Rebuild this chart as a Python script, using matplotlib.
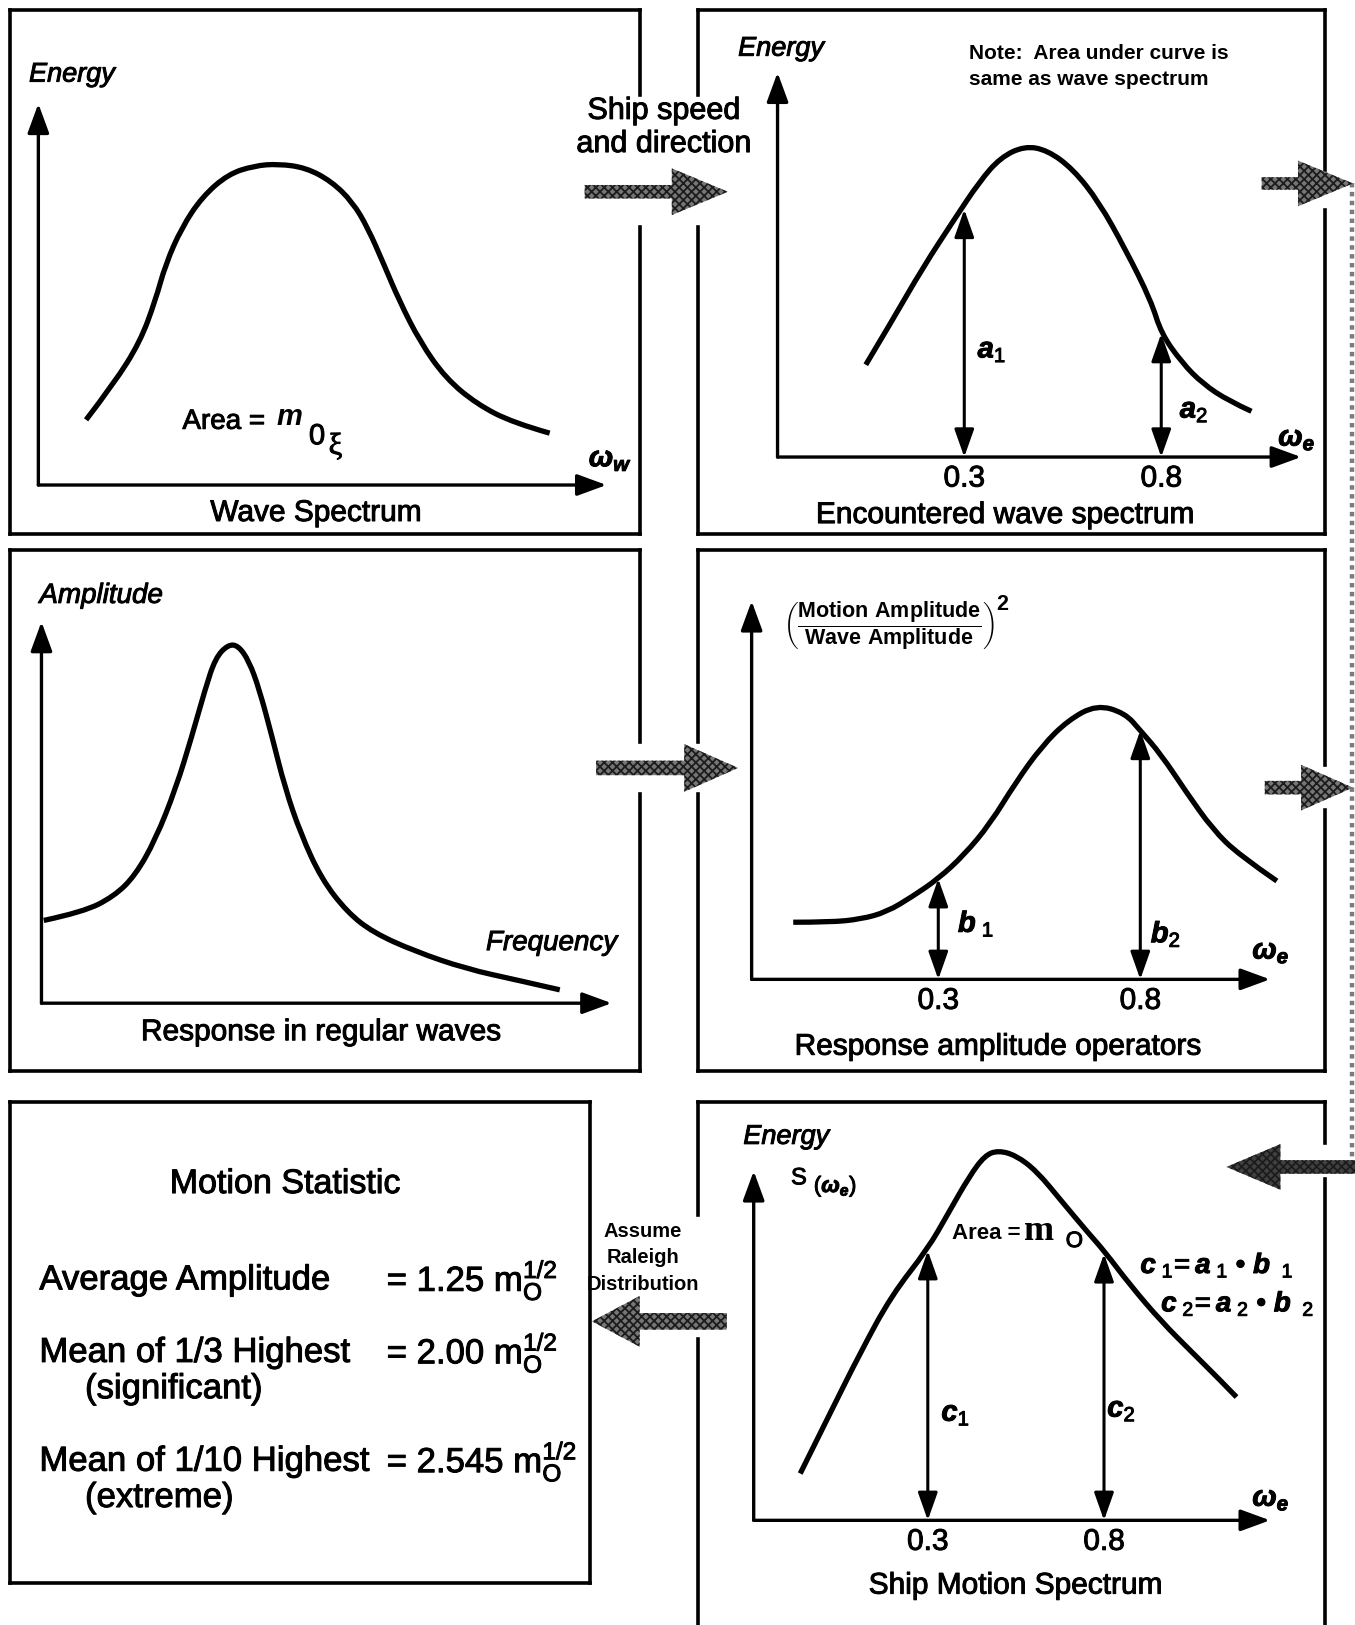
import matplotlib
matplotlib.use("Agg")
import matplotlib.pyplot as plt
import matplotlib.patheffects as pe
from matplotlib.patches import Polygon, PathPatch
from matplotlib.path import Path

plt.rcParams["font.family"] = ["Liberation Sans", "DejaVu Sans"]
plt.rcParams["mathtext.fontset"] = "custom"
plt.rcParams["mathtext.rm"] = "Liberation Sans"
plt.rcParams["mathtext.it"] = "Liberation Sans:italic:bold"
plt.rcParams["mathtext.bf"] = "Liberation Sans:bold"
plt.rcParams["hatch.linewidth"] = 1.3

# ---- values (frequency, relative height) ----
wave_freq = [0.084, 0.133, 0.179, 0.206, 0.224, 0.252, 0.288, 0.334, 0.380, 0.422,
             0.471, 0.516, 0.553, 0.580, 0.608, 0.635, 0.672, 0.717, 0.772, 0.836, 0.900]
wave_energy = [0.171, 0.266, 0.375, 0.484, 0.579, 0.674, 0.755, 0.815, 0.837, 0.842,
               0.832, 0.796, 0.742, 0.674, 0.579, 0.484, 0.375, 0.280, 0.212, 0.163, 0.136]

enc_freq = [0.05, 0.116, 0.195, 0.274, 0.339, 0.392, 0.453, 0.511, 0.576, 0.642,
            0.708, 0.774, 0.80, 0.853, 0.905, 0.971, 1.029]
enc_energy = [0.240, 0.353, 0.493, 0.617, 0.717, 0.779, 0.809, 0.798, 0.749, 0.663,
              0.542, 0.407, 0.321, 0.245, 0.191, 0.146, 0.119]

resp_freq = [0.004, 0.073, 0.127, 0.164, 0.200, 0.236, 0.264, 0.287, 0.305, 0.327, 0.345,
             0.364, 0.382, 0.404, 0.427, 0.455, 0.491, 0.536, 0.582, 0.655, 0.745, 0.836, 0.909]
resp_amp = [0.217, 0.239, 0.280, 0.334, 0.429, 0.565, 0.701, 0.823, 0.905, 0.940, 0.938,
            0.897, 0.823, 0.701, 0.565, 0.443, 0.326, 0.239, 0.185, 0.136, 0.090, 0.060, 0.035]

rao_freq = [-0.059, 0.031, 0.108, 0.172, 0.236, 0.300, 0.364, 0.428, 0.492, 0.556,
            0.621, 0.692, 0.762, 0.800, 0.851, 0.915, 0.979, 1.044, 1.138]
rao_value = [0.151, 0.151, 0.159, 0.178, 0.219, 0.266, 0.329, 0.411, 0.521, 0.616,
             0.685, 0.726, 0.704, 0.658, 0.595, 0.493, 0.397, 0.329, 0.260]

motion_freq = [-0.062, 0.021, 0.109, 0.197, 0.300, 0.359, 0.418, 0.462, 0.500, 0.550,
               0.609, 0.682, 0.756, 0.800, 0.874, 0.962, 1.050, 1.124, 1.176]
motion_energy = [0.134, 0.303, 0.481, 0.644, 0.777, 0.881, 0.985, 1.045, 1.059, 1.045,
                 1.000, 0.911, 0.822, 0.772, 0.674, 0.570, 0.481, 0.407, 0.353]

mark_freq = [0.3, 0.8]
tick_labels = ["0.3", "0.8"]
a_heights = [0.644, 0.321]
b_heights = [0.266, 0.658]
c_heights = [0.772, 0.763]

stat_names = ["Average Amplitude", "Mean of 1/3 Highest", "Mean of 1/10 Highest"]
stat_notes = ["", "(significant)", "(extreme)"]
stat_coeffs = ["1.25", "2.00", "2.545"]

W, H = 1307, 1568
fig = plt.figure(figsize=(13.55, 16.25), dpi=100)
ax = fig.add_axes([0, 0, 1, 1])
ax.set_xlim(0, W)
ax.set_ylim(H, 0)
ax.axis("off")

BORDER = 2.6
HEAVY = [pe.withStroke(linewidth=0.7, foreground="black")]


def side(x0, y0, x1, y1, gap=None):
    # straight border piece, optionally broken where an arrow passes
    if gap is None:
        ax.plot([x0, x1], [y0, y1], color="black", lw=BORDER, solid_capstyle="projecting")
        return
    g0, g1 = gap
    ax.plot([x0, x0], [y0, g0], color="black", lw=BORDER, solid_capstyle="projecting")
    ax.plot([x0, x0], [g1, y1], color="black", lw=BORDER, solid_capstyle="projecting")


def frame(x0, y0, x1, y1, left=None, right=None, bottom=True):
    side(x0, y0, x1, y0)
    if bottom:
        side(x0, y1, x1, y1)
    side(x0, y0, x0, y1, left)
    side(x1, y0, x1, y1, right)


def block_arrow(x_tail, x_tip, y, shaft, head, head_len, face="#767676"):
    d = 1 if x_tip > x_tail else -1
    xb = x_tip - d * head_len
    pts = [(x_tail, y - shaft / 2), (xb, y - shaft / 2), (xb, y - head / 2), (x_tip, y),
           (xb, y + head / 2), (xb, y + shaft / 2), (x_tail, y + shaft / 2)]
    ax.add_patch(Polygon(pts, closed=True, facecolor=face, edgecolor="#1c1c1c",
                         hatch="xxxx", lw=0, zorder=3))


def chart(x0, y0, x1, y1, xlim):
    a = fig.add_axes([x0 / W, 1 - y0 / H, (x1 - x0) / W, (y0 - y1) / H])
    a.set_xlim(*xlim)
    a.set_ylim(0, 1)
    a.set_axis_off()
    for end in [(1, 0), (0, 1)]:
        a.annotate("", xy=end, xytext=(0, 0), xycoords="axes fraction",
                   arrowprops=dict(arrowstyle="-|>,head_length=0.9,head_width=0.33",
                                   lw=2.4, color="black", mutation_scale=20,
                                   shrinkA=0, shrinkB=0))
    return a


def markers(a, heights, size=21.5):
    for x, h, t in zip(mark_freq, heights, tick_labels):
        a.annotate("", xy=(x, h), xytext=(x, 0),
                   arrowprops=dict(arrowstyle="<|-|>,head_length=0.85,head_width=0.3",
                                   lw=2.2, color="black", mutation_scale=20,
                                   shrinkA=0, shrinkB=0))
        a.annotate(t, xy=(x, 0), xytext=(0, -15.5), textcoords="offset points",
                   ha="center", va="center", fontsize=size, path_effects=HEAVY)


def curve(a, x, y):
    # smooth quadratic path with the read points as control points
    pts = list(zip(x, y))
    verts = [pts[0]]
    codes = [Path.MOVETO]
    for i in range(1, len(pts) - 1):
        mid = ((pts[i][0] + pts[i + 1][0]) / 2, (pts[i][1] + pts[i + 1][1]) / 2)
        verts += [pts[i], mid if i < len(pts) - 2 else pts[-1]]
        codes += [Path.CURVE3, Path.CURVE3]
    a.add_patch(PathPatch(Path(verts, codes), fill=False, lw=3.8, edgecolor="black",
                          clip_on=False, capstyle="butt", joinstyle="round"))


def txt(x, y, s, size, heavy=True, **kw):
    kw.setdefault("va", "center")
    if heavy and kw.get("weight") != "bold":
        kw["path_effects"] = HEAVY
    ax.text(x, y, s, fontsize=size, **kw)


# ---- frames ----
frame(10, 10, 617, 515, right=(92, 219))
frame(673, 10, 1278, 515, left=(92, 219), right=(164, 203))
frame(10, 531, 617, 1033, right=(716, 766))
frame(673, 531, 1278, 1033, left=(716, 766), right=(738, 782))
frame(10, 1063, 569, 1527)
frame(673, 1063, 1278, 1575, left=(1172, 1292), right=(1103, 1138), bottom=False)

# ---- connecting arrows ----
block_arrow(564, 702, 185, 13, 45, 54)
block_arrow(1217, 1305, 177, 12, 44, 53)
block_arrow(575, 712, 741, 14, 46, 52)
block_arrow(1220, 1305, 760, 13, 44, 50)
block_arrow(1308, 1183, 1126, 13, 44, 52, face="#404040")
block_arrow(701, 571, 1275, 16, 49, 46)
ax.plot([1304, 1304], [177, 1126], color="#7c7c7c", lw=3.2, ls=(0, (1, 1)), zorder=2)

txt(640, 107, "Ship speed", 22, ha="center")
txt(640, 139, "and direction", 22, ha="center")
for i, s in enumerate(["Assume", "Raleigh", "Distribution"]):
    txt(620, 1188 + i * 25.5, s, 14.5, ha="center", weight="bold")

# ---- wave spectrum ----
p1 = chart(37, 468, 585, 100, (0, 1))
curve(p1, wave_freq, wave_energy)
txt(28, 72, "Energy", 19.5, style="italic")
txt(176, 407, "Area =", 20)
txt(267, 402, "m", 21, style="italic", weight="bold")
txt(298, 421, "0", 21)
txt(317, 431, "ξ", 22, family="Liberation Serif")
txt(568, 443, r"$\omega_w$", 21)
txt(305, 495, "Wave Spectrum", 21.5, ha="center")

# ---- encountered wave spectrum ----
p2 = chart(750, 441, 1255, 70, (-0.174, 1.155))
curve(p2, enc_freq, enc_energy)
markers(p2, a_heights)
txt(712, 47, "Energy", 19.5, style="italic")
txt(935, 52, "Note:  Area under curve is", 15, weight="bold")
txt(935, 77, "same as wave spectrum", 15, weight="bold")
txt(943, 338, r"$a_1$", 21)
txt(1138, 396, r"$a_2$", 21)
txt(1233, 423, r"$\omega_e$", 21)
txt(970, 497, "Encountered wave spectrum", 21.5, ha="center")

# ---- response in regular waves ----
p3 = chart(40, 968, 590, 600, (0, 1))
curve(p3, resp_freq, resp_amp)
txt(38, 575, "Amplitude", 20, style="italic")
txt(595, 910, "Frequency", 20, style="italic", ha="right")
txt(310, 996, "Response in regular waves", 21.5, ha="center")

# ---- response amplitude operators ----
p4 = chart(725, 945, 1225, 580, (-0.162, 1.121))
curve(p4, rao_freq, rao_value)
markers(p4, b_heights)
txt(857, 604, r"$\left(\dfrac{\mathbf{Motion\ Amplitude}}{\mathbf{Wave\ Amplitude}}\right)$",
    15.5, ha="center", heavy=False)
txt(967, 583, "2", 15.5, weight="bold", ha="center")
txt(924, 891, r"$b_{\ 1}$", 21)
txt(1110, 901, r"$b_2$", 21)
txt(1208, 918, r"$\omega_e$", 21)
txt(963, 1010, "Response amplitude operators", 21.5, ha="center")

# ---- motion statistics ----
txt(275, 1143, "Motion Statistic", 24.5, ha="center")
for i, (name, note, coef) in enumerate(zip(stat_names, stat_notes, stat_coeffs)):
    y = [1235, 1305, 1410][i]
    txt(38, y, name, 25)
    txt(373, y, "= " + coef + r" m$_{\mathrm{O}}^{\mathrm{1/2}}$", 25)
    if note:
        txt(82, y + 35, note, 25)

# ---- ship motion spectrum ----
p6 = chart(727, 1467, 1225, 1130, (-0.194, 1.271))
curve(p6, motion_freq, motion_energy)
markers(p6, c_heights)
txt(717, 1097, "Energy", 19.5, style="italic")
txt(763, 1137, "S", 17)
txt(785, 1145, r"$(\omega_e)$", 16)
txt(918, 1190, "Area =", 16, weight="bold")
txt(988, 1188, "m", 26, weight="bold", family="Liberation Serif")
txt(1028, 1198, "O", 16)
txt(1100, 1221, r"$c_{\ 1}\!=a_{\ 1}$" + " • " + r"$b_{\ \ 1}$", 20)
txt(1120, 1258, r"$c_{\ 2}\!=a_{\ 2}$" + " • " + r"$b_{\ \ 2}$", 20)
txt(908, 1364, r"$c_1$", 21)
txt(1068, 1360, r"$c_2$", 21)
txt(1208, 1446, r"$\omega_e$", 21)
txt(980, 1530, "Ship Motion Spectrum", 21.5, ha="center")

fig.savefig("out.png", dpi=100)
